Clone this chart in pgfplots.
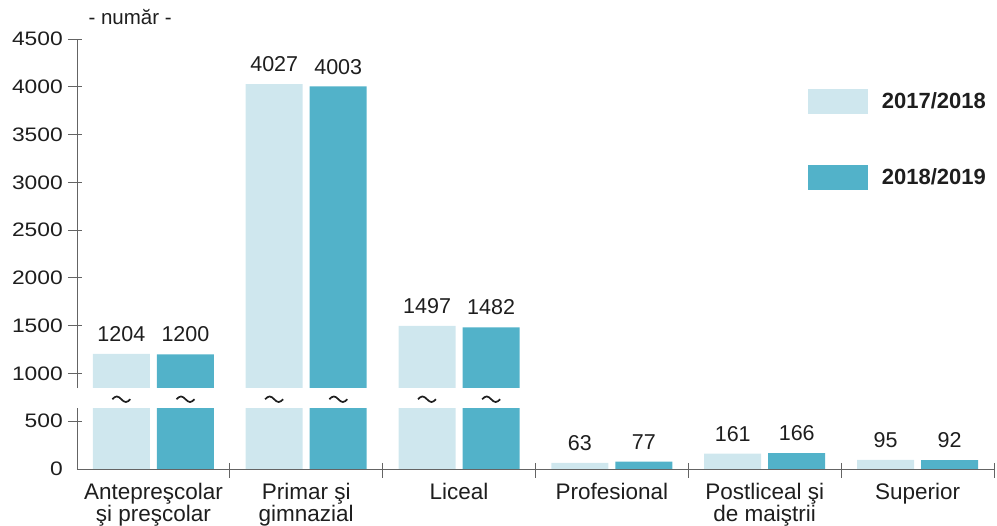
\documentclass[border=0pt]{standalone}
\usepackage{fontspec}
\setmainfont{Liberation Sans}
\newfontfamily\tickfont{Liberation Sans}[FakeStretch=1.17]
\usepackage{pgfplots}
\pgfplotsset{compat=1.18}
\definecolor{light}{RGB}{207,231,238}
\definecolor{dark}{RGB}{82,178,201}
\definecolor{axisgray}{RGB}{100,100,100}
\definecolor{txt}{RGB}{30,30,30}
\begin{document}
\begin{tikzpicture}
\useasboundingbox (-77pt,-57pt) rectangle (920pt,469pt);
\begin{axis}[
 at={(0,0)}, anchor=south west,
 scale only axis, width=917pt, height=430pt,
 xmin=-0.5, xmax=5.5, ymin=0, ymax=4500,
 axis x line*=bottom, axis y line*=left,
 x axis line style={-, draw=axisgray, line width=0.8pt},
 y axis line style={draw=none},
 tick align=inside, major tick length=0pt,
 xtick={0,1,2,3,4,5},
 xticklabels={{Antepreşcolar\\şi preşcolar},{Primar şi\\gimnazial},Liceal,Profesional,{Postliceal şi\\de maiştrii},Superior},
 xticklabel style={align=center, font=\fontsize{22.5}{22}\selectfont, text=txt, anchor=north, inner sep=0pt, yshift=-14pt},
 ytick={0,500,1000,1500,2000,2500,3000,3500,4000,4500},
 yticklabel style={font=\tickfont\fontsize{19.5}{20}\selectfont, anchor=east, inner sep=0pt, xshift=-14pt, text=txt},
 scaled y ticks=false,
 /pgf/number format/1000 sep={},
 /pgf/number format/assume math mode=true,
 ybar, bar width=57pt,
 nodes near coords,
 every node near coord/.append style={font=\fontsize{21.5}{22}\selectfont, text=txt, anchor=south, inner sep=0pt, yshift=12pt},
 legend style={at={(0.797,0.884)}, anchor=north west, draw=none, fill=none, inner sep=0pt, outer sep=0pt, row sep=51pt, column sep=14pt, font=\bfseries\fontsize{22}{22}\selectfont, text=txt, nodes={inner sep=0pt}},
 legend cell align=left,
 legend image code/.code={\fill[#1,draw=none] (0pt,-12.5pt) rectangle (60pt,12.5pt);},
 clip=false,
]
\addplot[fill=light, draw=none, bar shift=-32pt] coordinates {(0,1204) (1,4027) (2,1497) (3,63) (4,161) (5,95)};
\addplot[fill=dark, draw=none, bar shift=32pt] coordinates {(0,1200) (1,4003) (2,1482) (3,77) (4,166) (5,92)};
\legend{2017/2018, 2018/2019}
% axis break band
\fill[white] (axis cs:-0.5,640) rectangle (axis cs:2.5,845);
\draw[axisgray, line width=0.8pt] (axis cs:-0.5,0) -- (axis cs:-0.5,640);
\draw[axisgray, line width=0.8pt] (axis cs:-0.5,845) -- (axis cs:-0.5,4500);
\pgfplotsinvokeforeach{500,1000,1500,2000,2500,3000,3500,4000,4500}{
  \draw[axisgray, line width=0.8pt] ([xshift=-9pt]axis cs:-0.5,#1) -- ([xshift=5pt]axis cs:-0.5,#1);
}
\pgfplotsinvokeforeach{0.5,1.5,2.5,3.5,4.5,5.5}{
  \draw[axisgray, line width=0.8pt] ([yshift=6pt]axis cs:#1,0) -- ([yshift=-9pt]axis cs:#1,0);
}
\pgfplotsinvokeforeach{-0.21,0.21,0.79,1.21,1.79,2.21}{
  \draw[txt, line width=1.7pt] ([xshift=-9pt]axis cs:#1,730) sin ++(4.5pt,2.8pt) cos ++(4.5pt,-2.8pt) sin ++(4.5pt,-2.8pt) cos ++(4.5pt,2.8pt);
}
\node[anchor=base west, font=\fontsize{20.5}{21}\selectfont, text=txt] at ([xshift=8pt, yshift=14pt]rel axis cs:0,1) {- număr -};
\end{axis}
\end{tikzpicture}
\end{document}
